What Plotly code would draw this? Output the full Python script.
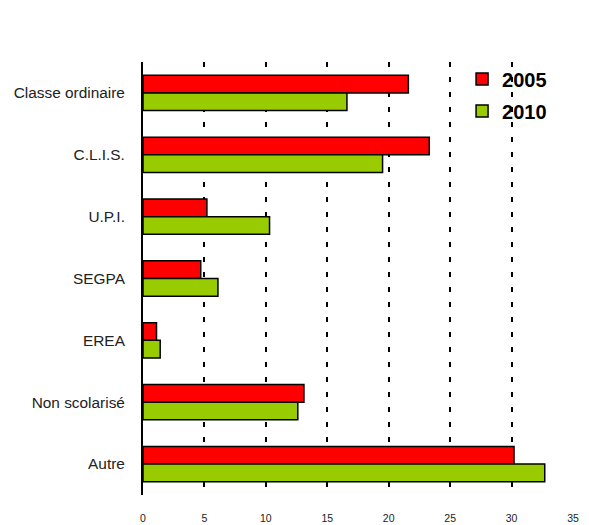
import plotly.graph_objects as go

categories = ["Classe ordinaire", "C.L.I.S.", "U.P.I.", "SEGPA", "EREA", "Non scolarisé", "Autre"]
values_2005 = [21.6, 23.3, 5.2, 4.7, 1.1, 13.1, 30.2]
values_2010 = [16.6, 19.5, 10.3, 6.1, 1.4, 12.6, 32.7]
x_ticks = [0, 5, 10, 15, 20, 25, 30, 35]

label_font = "Liberation Sans, Arial, sans-serif"

fig = go.Figure()
fig.add_trace(go.Bar(
    name="2005", y=categories, x=values_2005, orientation="h",
    marker=dict(color="#FF0000", line=dict(color="black", width=1.5)),
    legendgroup="a",
))
fig.add_trace(go.Bar(
    name="2010", y=categories, x=values_2010, orientation="h",
    marker=dict(color="#99CC00", line=dict(color="black", width=1.5)),
    legendgroup="b",
))

fig.update_layout(
    width=589, height=525,
    margin=dict(l=143, r=16, t=62, b=30),
    paper_bgcolor="white", plot_bgcolor="white",
    barmode="group", bargap=0.43, bargroupgap=0,
    xaxis=dict(
        range=[0, 35], tickvals=x_ticks, ticktext=[str(v) for v in x_ticks],
        showgrid=True, gridcolor="black", gridwidth=2, griddash="5px,10px",
        zeroline=False, showline=False, ticks="", automargin=False,
        tickfont=dict(family=label_font, size=10.5, color="#222"),
        ticklabelstandoff=15,
    ),
    xaxis2=dict(
        overlaying="x", range=[0, 35], dtick=10, tick0=0,
        showgrid=True, gridcolor="black", gridwidth=3, griddash="5px,10px",
        showticklabels=False, zeroline=False, showline=False, ticks="",
    ),
    yaxis=dict(
        autorange="reversed", showline=True, linecolor="black", linewidth=2,
        showgrid=False, ticks="", ticklabelstandoff=13, automargin=False,
        tickfont=dict(family=label_font, size=15.4, color="#222"),
    ),
    legend=dict(
        x=0.742, y=1.006, xanchor="left", yanchor="top",
        font=dict(family=label_font, size=20, color="black", weight="bold"),
        tracegroupgap=3, bgcolor="rgba(0,0,0,0)",
    ),
    showlegend=True,
)

fig.write_html("out.html")
